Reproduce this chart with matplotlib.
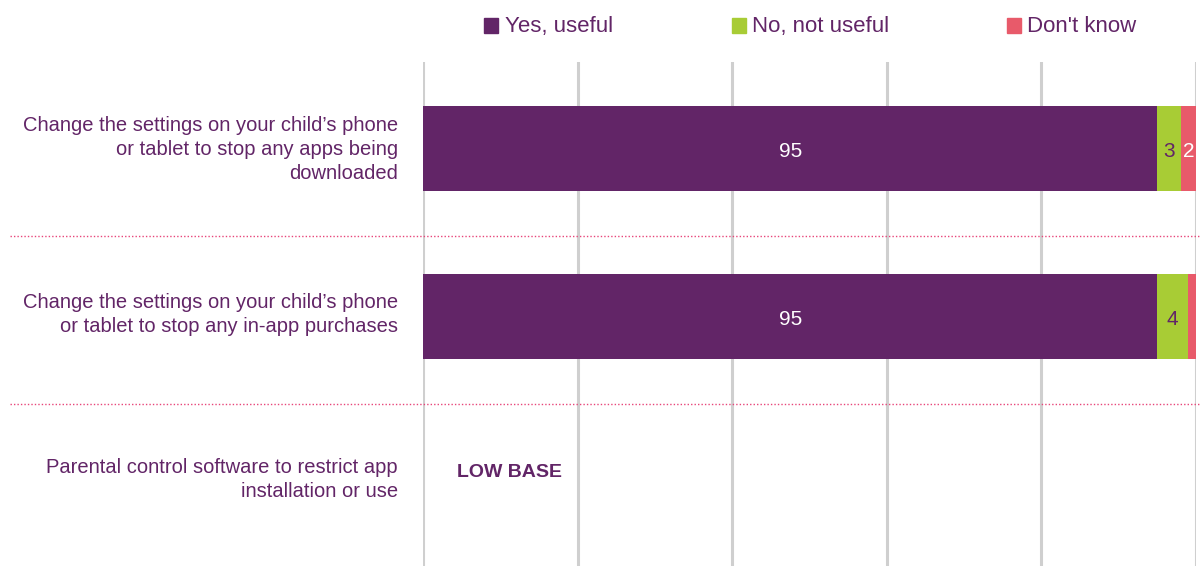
import matplotlib
matplotlib.use("Agg")
import matplotlib.pyplot as plt
from matplotlib.patches import Rectangle
from matplotlib.lines import Line2D
from matplotlib.transforms import blended_transform_factory

plt.rcParams['font.family'] = ['Liberation Sans', 'DejaVu Sans']

categories = [
    "Change the settings on your child\u2019s phone\nor tablet to stop any apps being\ndownloaded",
    "Change the settings on your child\u2019s phone\nor tablet to stop any in-app purchases",
    "Parental control software to restrict app\ninstallation or use",
]
series_names = ["Yes, useful", "No, not useful", "Don't know"]
yes_vals = [95, 95, None]
no_vals = [3, 4, None]
dk_vals = [2, 1, None]
shown_labels = [["95", "3", "2"], ["95", "4", ""], ["", "", ""]]
low_base = [False, False, True]

colors = ["#622567", "#A8CC35", "#E85A6A"]
label_colors = ["white", "#622567", "white"]
text_color = "#622567"

W, H = 1200, 566
fig = plt.figure(figsize=(W / 100, H / 100), dpi=100)
ax = fig.add_axes([423 / W, 0, (1196 - 423) / W, 1 - 62 / H])
ax.set_xlim(0, 100)
ax.set_ylim(2.5 - 6 / 168, -0.5 - 6 / 168)

for x in range(0, 101, 20):
    ax.axvline(x, color="#CFCFCF", lw=2.2, zorder=0)

series = [yes_vals, no_vals, dk_vals]
for i in range(len(categories)):
    left = 0
    for s, vals in enumerate(series):
        v = vals[i]
        if v is None:
            continue
        ax.barh(i - 0.02, v, left=left, height=0.505, color=colors[s], zorder=2)
        lab = shown_labels[i][s]
        if lab:
            ax.text(left + v / 2, i - 0.005, lab, ha="center", va="center",
                    color=label_colors[s], fontsize=15, zorder=3)
        left += v
    if low_base[i]:
        ax.text(4.4, i - 0.09, "LOW BASE", ha="left", va="center",
                color=text_color, fontsize=14, fontweight="bold")

for sp in ax.spines.values():
    sp.set_visible(False)
ax.set_xticks([])
ax.set_yticks([])

# category labels
trans = blended_transform_factory(fig.transFigure, ax.transData)
text_offsets = [-0.015, -0.035, -0.05]
for i, c in enumerate(categories):
    fig.text(398 / W, i + text_offsets[i], c, transform=trans, ha="right",
             va="center", color=text_color, fontsize=14.5, linespacing=1.33)

# dotted separators
for yv in [0.5, 1.5]:
    ln = Line2D([10 / W, 1.0], [yv, yv], transform=trans, color="#E8457A",
                lw=1.0, linestyle=(0, (1, 1.5)), clip_on=False)
    fig.add_artist(ln)

# legend
leg_sq = [484, 732, 1007]
leg_tx = [505, 752, 1027]
for s, name in enumerate(series_names):
    fig.add_artist(Rectangle((leg_sq[s] / W, 1 - 33 / H), 14 / W, 15 / H,
                             transform=fig.transFigure, color=colors[s]))
    fig.text(leg_tx[s] / W, 1 - 32 / H, name, ha="left", va="baseline",
             color=text_color, fontsize=16)

fig.savefig("out.png", dpi=100)
